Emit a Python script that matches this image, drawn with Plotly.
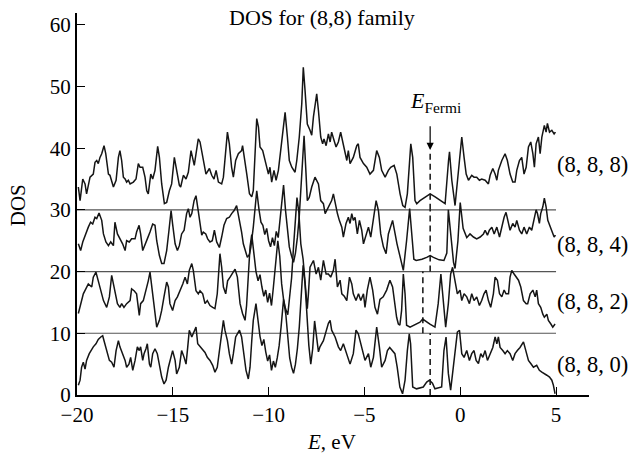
import plotly.graph_objects as go

# ---------------- data ----------------
e_888 = [-19.93,-19.84,-19.70,-19.58,-19.50,-19.32,-19.15,-19.06,-18.97,-18.89,-18.80,-18.71,-18.59,-18.50,-18.36,-18.28,-18.10,-17.96,-17.84,-17.76,
         -17.67,-17.58,-17.49,-17.41,-17.32,-17.23,-17.06,-16.92,-16.80,-16.71,-16.57,-16.45,-16.36,-16.28,-16.15,-16.05,-15.93,-15.79,-15.70,-15.58,
         -15.44,-15.32,-15.18,-15.06,-14.92,-14.80,-14.66,-14.59,-14.45,-14.31,-14.19,-14.05,-13.96,-13.88,-13.75,-13.67,-13.58,-13.44,-13.27,-13.09,
         -12.97,-12.85,-12.74,-12.62,-12.45,-12.36,-12.22,-12.15,-12.05,-11.93,-11.84,-11.72,-11.58,-11.41,-11.36,-11.23,-11.14,-11.00,-10.88,-10.80,
         -10.71,-10.62,-10.53,-10.45,-10.31,-10.19,-10.01,-9.93,-9.84,-9.72,-9.61,-9.49,-9.32,-9.14,-9.02,-8.92,-8.79,-8.62,-8.53,-8.40,
         -8.27,-8.19,-8.10,-7.98,-7.84,-7.75,-7.66,-7.49,-7.40,-7.28,-7.18,-7.11,-7.00,-6.88,-6.79,-6.71,-6.58,-6.48,-6.36,-6.24,
         -6.13,-6.01,-5.92,-5.84,-5.75,-5.58,-5.40,-5.32,-5.23,-5.05,-4.88,-4.71,-4.53,-4.36,-4.22,-4.10,-3.92,-3.75,-3.63,-3.45,
         -3.31,-3.14,-3.00,-2.88,-2.76,-2.58,-2.48,-2.36,-2.27,-2.10,-1.84,-1.57,-1.31,-1.05,-0.79,-0.61,-0.56,-0.44,-0.27,-0.04,
         0.08,0.20,0.31,0.43,0.60,0.72,0.86,1.00,1.12,1.30,1.47,1.56,1.70,1.82,1.91,1.99,2.17,2.34,2.46,2.60,
         2.74,2.86,2.95,3.09,3.21,3.33,3.44,3.56,3.68,3.79,3.87,3.96,4.08,4.17,4.26,4.39,4.48,4.55,4.66,4.78,4.90,4.97]
y_888 = [33.7,31.5,35.0,34.2,32.6,35.3,35.8,37.7,38.0,37.5,38.5,39.1,40.4,39.1,35.8,35.6,33.7,34.8,38.5,39.6,
         38.0,35.3,35.0,34.5,34.8,34.2,34.5,35.0,37.5,36.9,36.9,35.3,33.1,32.6,35.8,35.0,36.4,40.3,38.5,34.2,
         31.0,31.2,33.1,34.2,38.5,36.4,34.0,33.7,35.6,35.0,36.1,39.6,38.0,37.2,39.9,41.5,41.0,38.5,35.8,36.7,
         35.6,35.0,36.4,34.5,34.2,35.3,41.2,42.6,40.7,36.9,35.3,38.0,39.1,39.6,40.4,38.0,35.8,32.6,32.1,33.1,
         40.2,44.8,43.4,40.2,39.6,38.0,35.8,36.9,34.5,36.4,34.8,36.4,40.7,45.8,41.8,38.0,36.9,36.1,38.0,41.8,
         47.2,53.1,49.4,43.9,42.9,42.1,45.1,48.8,46.1,41.8,40.7,41.5,40.4,42.3,41.0,42.6,41.2,40.2,41.0,42.6,
         41.0,39.1,38.0,39.6,37.5,38.5,40.4,40.7,38.5,37.5,36.9,35.8,36.4,39.6,38.5,36.4,35.3,36.4,36.9,37.2,
         35.8,32.6,30.7,30.4,32.6,40.7,38.5,31.5,31.0,31.5,32.1,32.6,32.1,31.5,31.0,38.0,39.4,34.8,30.7,38.0,
         41.8,38.5,35.8,34.8,35.6,35.3,35.3,34.8,35.0,34.8,34.2,35.6,36.7,35.8,34.8,36.4,38.0,39.1,38.0,35.8,
         34.5,34.5,36.4,38.0,38.5,35.8,36.9,40.2,41.0,39.1,36.9,40.7,41.8,39.1,41.8,43.7,42.6,44.0,42.6,42.9,42.3,42.6]

e_884 = [-19.93,-19.81,-19.70,-19.58,-19.41,-19.29,-19.18,-19.06,-18.97,-18.85,-18.71,-18.62,-18.49,-18.36,-18.24,-18.10,-18.02,-17.89,-17.76,-17.62,
         -17.49,-17.41,-17.27,-17.15,-16.97,-16.89,-16.76,-16.68,-16.57,-16.45,-16.33,-16.19,-16.05,-15.93,-15.84,-15.70,-15.58,-15.46,-15.32,-15.20,
         -15.09,-15.01,-14.88,-14.76,-14.66,-14.54,-14.41,-14.28,-14.19,-14.10,-14.01,-13.89,-13.79,-13.70,-13.58,-13.49,-13.41,-13.28,-13.18,-13.06,
         -12.94,-12.83,-12.71,-12.57,-12.45,-12.33,-12.19,-12.05,-11.93,-11.80,-11.67,-11.54,-11.41,-11.32,-11.20,-11.11,-11.00,-10.93,-10.80,-10.70,
         -10.62,-10.50,-10.40,-10.30,-10.20,-10.10,-10.00,-9.90,-9.80,-9.70,-9.60,-9.50,-9.40,-9.30,-9.22,-9.12,-9.02,-8.92,-8.80,-8.70,
         -8.60,-8.50,-8.40,-8.30,-8.22,-8.15,-8.05,-7.98,-7.88,-7.75,-7.58,-7.40,-7.28,-7.14,-7.05,-6.88,-6.71,-6.62,-6.53,-6.41,
         -6.31,-6.18,-6.10,-5.96,-5.84,-5.75,-5.66,-5.58,-5.49,-5.37,-5.26,-5.14,-5.05,-4.91,-4.79,-4.67,-4.53,-4.39,-4.27,-4.15,
         -4.01,-3.87,-3.75,-3.53,-3.30,-3.10,-2.97,-2.80,-2.64,-2.50,-2.42,-2.30,-2.00,-1.75,-1.57,-1.40,-1.10,-0.85,-0.70,-0.62,
         -0.50,-0.35,-0.27,-0.12,0.00,0.15,0.34,0.51,0.69,0.86,1.04,1.21,1.30,1.42,1.52,1.65,1.77,1.91,2.05,2.17,
         2.29,2.39,2.52,2.60,2.74,2.86,2.95,3.09,3.21,3.33,3.47,3.61,3.73,3.85,3.96,4.03,4.13,4.20,4.31,4.39,
         4.48,4.57,4.69,4.81,4.90,4.97]
y_884 = [24.5,23.4,24.8,25.9,27.2,28.0,27.7,28.8,28.6,29.5,28.3,26.1,24.8,24.2,24.8,24.2,28.0,26.1,25.3,24.5,
         23.4,25.0,24.8,25.3,25.3,26.4,27.5,26.1,23.4,24.5,25.3,26.4,27.7,27.5,25.0,22.6,21.3,21.3,23.4,26.7,
         29.9,27.7,24.5,23.4,24.2,26.1,26.7,29.4,30.2,28.8,29.4,31.5,32.3,30.4,27.7,25.9,26.4,26.1,25.3,24.8,
         25.0,26.7,24.8,23.9,25.6,27.5,28.6,28.8,29.4,29.9,30.7,28.8,26.4,24.5,23.4,22.3,22.8,23.9,27.2,31.0,
         33.1,30.0,28.0,27.5,26.0,27.0,25.0,24.0,25.5,24.2,26.5,25.5,28.5,31.0,34.0,30.0,26.5,24.0,22.5,21.5,
         23.0,25.5,29.0,34.0,39.0,42.0,36.0,31.5,32.0,33.7,35.3,34.2,31.5,31.0,29.4,30.5,31.5,32.6,31.0,29.4,
         28.3,27.2,25.6,27.8,28.8,27.8,29.4,28.3,28.8,26.1,28.3,26.7,24.5,26.1,27.2,25.6,28.8,31.5,29.9,26.1,
         24.0,22.9,26.1,28.3,24.5,22.0,20.2,25.0,30.2,25.0,22.0,21.8,22.0,22.3,22.6,22.3,21.9,21.8,23.0,30.0,
         26.0,21.5,20.5,25.0,31.2,27.0,25.5,26.1,25.6,25.3,25.6,26.1,26.7,25.9,26.7,27.2,26.1,27.2,25.6,27.2,
         28.8,29.6,27.8,26.7,27.8,27.2,28.3,26.7,26.1,27.2,26.1,27.2,26.7,28.3,30.0,29.4,27.8,29.4,30.5,31.9,
         30.5,28.3,27.2,26.4,25.6,25.9]

e_882 = [-19.93,-19.81,-19.67,-19.41,-19.23,-19.15,-19.01,-18.89,-18.76,-18.62,-18.45,-18.31,-18.19,-18.10,-18.02,-17.89,-17.76,-17.67,-17.55,-17.41,
         -17.23,-17.15,-17.02,-16.89,-16.75,-16.68,-16.54,-16.40,-16.28,-16.19,-16.10,-15.98,-15.84,-15.70,-15.58,-15.46,-15.32,-15.23,-15.15,-15.01,
         -14.88,-14.76,-14.62,-14.48,-14.36,-14.24,-14.14,-14.01,-13.93,-13.79,-13.67,-13.58,-13.44,-13.32,-13.20,-13.06,-12.92,-12.80,-12.68,-12.54,
         -12.45,-12.36,-12.24,-12.14,-12.01,-11.87,-11.75,-11.63,-11.49,-11.36,-11.23,-11.15,-11.06,-10.97,-10.88,-10.78,-10.66,-10.55,-10.45,-10.35,
         -10.25,-10.15,-10.05,-9.95,-9.85,-9.75,-9.65,-9.52,-9.42,-9.32,-9.22,-9.12,-9.00,-8.90,-8.80,-8.70,-8.60,-8.52,-8.42,-8.32,
         -8.20,-8.08,-7.98,-7.92,-7.84,-7.66,-7.52,-7.40,-7.28,-7.14,-7.00,-6.88,-6.76,-6.62,-6.53,-6.41,-6.27,-6.18,-6.05,-5.92,
         -5.78,-5.66,-5.58,-5.44,-5.31,-5.19,-5.05,-4.97,-4.85,-4.71,-4.57,-4.45,-4.32,-4.19,-4.02,-3.84,-3.67,-3.53,-3.41,-3.32,
         -3.23,-3.15,-3.06,-2.97,-2.88,-2.80,-2.62,-2.28,-2.10,-1.96,-1.79,-1.58,-1.32,-1.15,-1.01,-0.88,-0.76,-0.62,-0.50,-0.40,
         -0.27,-0.15,-0.01,0.08,0.20,0.34,0.48,0.60,0.72,0.86,1.00,1.12,1.24,1.35,1.47,1.59,1.73,1.82,1.94,2.05,
         2.17,2.29,2.39,2.52,2.60,2.69,2.81,2.92,3.04,3.16,3.30,3.44,3.52,3.65,3.79,3.91,3.99,4.08,4.20,4.31,
         4.39,4.52,4.60,4.73,4.83,4.95]
y_882 = [13.2,14.8,16.4,18.0,17.5,19.1,19.9,18.5,16.9,15.3,14.2,15.9,19.4,18.0,16.9,14.8,14.2,14.8,14.2,14.8,
         15.3,17.2,16.9,16.4,12.9,14.8,15.3,16.9,18.5,19.9,17.5,14.2,11.0,12.1,13.7,15.9,18.3,17.5,14.8,13.7,
         15.3,15.9,16.9,18.0,19.1,18.0,20.2,21.3,20.2,16.9,16.4,16.9,16.4,14.8,15.3,14.5,14.2,14.0,16.4,22.9,
         20.7,17.5,16.4,18.5,19.1,19.9,20.4,19.1,14.8,13.2,12.1,14.5,19.5,24.0,26.0,23.5,20.0,18.5,19.5,17.5,
         16.0,17.0,15.0,16.5,14.5,17.5,21.0,25.0,22.5,18.0,15.5,14.0,13.0,15.5,19.0,24.0,29.0,32.0,29.5,24.5,
         22.0,18.0,14.0,16.5,20.7,21.8,19.6,20.7,18.6,21.8,19.6,19.6,19.1,20.2,22.0,17.5,18.6,16.4,16.0,15.3,
         19.1,18.0,16.4,15.3,16.4,15.3,16.4,14.2,17.0,19.1,17.0,14.2,13.1,15.5,15.9,17.0,18.6,17.5,14.2,12.6,
         11.5,11.3,13.7,19.6,16.4,11.3,11.0,11.5,11.8,12.3,11.9,11.5,11.0,14.8,19.6,15.3,11.0,14.8,19.6,20.7,
         18.6,16.4,17.0,15.3,16.4,15.9,14.8,16.4,15.3,15.9,14.5,15.3,16.4,17.0,15.3,14.2,16.4,19.1,18.6,16.4,
         15.9,17.0,16.4,16.4,19.1,20.2,19.6,19.1,18.6,17.5,15.3,14.8,14.8,16.4,17.0,15.9,17.0,14.8,14.2,13.1,
         12.6,13.1,12.1,11.5,11.0,11.5]

e_880 = [-19.93,-19.84,-19.76,-19.67,-19.58,-19.50,-19.36,-19.23,-19.15,-19.01,-18.89,-18.76,-18.66,-18.59,-18.45,-18.31,-18.19,-18.07,-17.96,-17.84,
         -17.76,-17.63,-17.49,-17.41,-17.29,-17.20,-17.09,-16.97,-16.85,-16.75,-16.68,-16.57,-16.50,-16.40,-16.33,-16.22,-16.15,-16.05,-15.93,-15.81,
         -15.70,-15.58,-15.46,-15.35,-15.23,-15.11,-15.01,-14.88,-14.80,-14.66,-14.54,-14.41,-14.31,-14.22,-14.14,-14.01,-13.93,-13.79,-13.70,-13.58,
         -13.44,-13.32,-13.20,-13.06,-12.92,-12.80,-12.68,-12.54,-12.45,-12.36,-12.28,-12.15,-12.05,-11.93,-11.84,-11.72,-11.63,-11.52,-11.41,-11.28,
         -11.18,-11.06,-10.97,-10.88,-10.80,-10.66,-10.55,-10.45,-10.35,-10.25,-10.15,-10.05,-9.95,-9.85,-9.75,-9.65,-9.55,-9.45,-9.35,-9.22,
         -9.10,-9.00,-8.90,-8.80,-8.70,-8.60,-8.50,-8.40,-8.30,-8.20,-8.10,-8.00,-7.90,-7.80,-7.70,-7.60,-7.50,-7.40,-7.32,-7.14,
         -6.88,-6.79,-6.71,-6.53,-6.36,-6.24,-6.10,-5.92,-5.75,-5.58,-5.44,-5.32,-5.14,-4.97,-4.79,-4.67,-4.53,-4.36,-4.22,-4.10,
         -3.92,-3.80,-3.68,-3.53,-3.41,-3.29,-3.15,-3.01,-2.88,-2.76,-2.66,-2.59,-2.48,-2.28,-1.93,-1.75,-1.61,-1.45,-1.32,-0.97,
         -0.85,-0.74,-0.62,-0.50,-0.33,-0.15,-0.04,0.08,0.20,0.34,0.48,0.60,0.72,0.83,0.95,1.07,1.18,1.30,1.42,1.56,
         1.70,1.82,1.91,1.99,2.08,2.22,2.34,2.46,2.60,2.74,2.86,2.98,3.12,3.30,3.44,3.56,3.68,3.82,3.99,4.13,
         4.26,4.39,4.52,4.66,4.78,4.86,4.95]
y_880 = [1.6,2.4,4.5,5.3,4.2,5.6,6.7,7.5,7.8,8.3,9.0,9.4,9.6,8.8,7.2,5.6,5.3,4.5,7.2,8.8,
         7.8,6.7,5.6,4.5,5.0,6.1,4.0,5.6,7.8,7.2,7.8,5.6,6.7,7.5,8.3,5.0,4.5,6.7,7.5,6.7,
         5.0,2.9,1.8,2.4,4.5,6.1,7.2,5.6,3.4,4.5,7.2,6.1,5.0,7.8,10.5,9.4,9.9,11.0,8.3,7.8,
         7.2,6.9,6.1,5.6,4.8,3.7,4.5,7.8,9.9,12.1,10.5,8.8,6.7,5.0,6.7,9.4,9.9,10.5,9.4,6.7,
         4.0,2.6,4.5,8.8,12.1,14.8,12.0,9.5,8.0,9.0,7.0,5.5,6.5,4.0,5.5,4.5,6.0,8.0,11.0,15.5,
         13.0,9.0,6.0,4.5,3.5,5.0,7.5,11.0,16.0,21.0,18.0,12.0,8.0,5.0,7.5,12.0,9.5,7.0,7.8,8.8,
         11.6,12.1,10.5,9.4,7.8,7.2,8.3,6.7,5.0,6.7,10.5,9.9,7.8,5.6,6.7,4.5,6.1,11.0,7.8,4.5,
         5.6,7.2,7.7,7.2,6.7,4.5,1.3,0.2,2.4,7.2,9.9,8.3,1.3,1.0,1.3,2.1,2.4,1.9,1.0,1.3,
         7.2,9.4,3.5,0.8,5.6,10.2,10.5,6.7,6.1,7.2,5.6,6.7,7.2,5.6,5.1,6.7,6.1,7.2,5.6,6.7,
         7.7,9.4,8.3,9.4,7.7,7.2,6.7,7.2,6.7,5.6,6.7,7.2,7.7,8.6,6.7,5.6,5.1,4.5,4.8,4.0,
         3.7,3.5,3.2,2.9,2.4,1.6,0.2]

series = [("(8, 8, 8)", e_888, y_888), ("(8, 8, 4)", e_884, y_884),
          ("(8, 8, 2)", e_882, y_882), ("(8, 8, 0)", e_880, y_880)]
label_y = [37.4, 24.4, 15.1, 5.0]

baselines = [10, 20, 30]
fermi_e = [-1.57, -1.57, -1.95, -1.57]
fermi_lo = [30, 20, 10, 0]
fermi_hi = [39.7, 30, 20, 10]

x_ticks = [-20, -15, -10, -5, 0, 5]
y_ticks = [0, 10, 20, 30, 40, 50, 60]

# ---------------- figure ----------------
FONT = "Liberation Serif, Times New Roman, serif"
fig = go.Figure()

for b in baselines:
    fig.add_trace(go.Scatter(x=[-20, 5], y=[b, b], mode="lines",
                             line=dict(color="#555555", width=1.1), hoverinfo="skip"))

for e, lo, hi in zip(fermi_e, fermi_lo, fermi_hi):
    fig.add_trace(go.Scatter(x=[e, e], y=[lo, hi], mode="lines",
                             line=dict(color="black", width=1.4, dash="6px,4px"), hoverinfo="skip"))

for name, e, y in series:
    fig.add_trace(go.Scatter(x=e, y=y, mode="lines", name=name,
                             line=dict(color="#151515", width=1.5)))

for (name, e, y), ly in zip(series, label_y):
    fig.add_annotation(x=4.92, y=ly, text=name, showarrow=False, xanchor="left",
                       yanchor="middle", font=dict(family=FONT, size=22.5, color="black"))

# E_Fermi label with arrow
fig.add_annotation(x=-1.57, y=39.7, ax=-1.57, ay=43.8, xref="x", yref="y", axref="x", ayref="y",
                   showarrow=True, arrowhead=2, arrowsize=1.2, arrowwidth=1.2, arrowcolor="black", text="")
fig.add_annotation(x=-1.3, y=47.5, text="<i>E</i><sub>Fermi</sub>", showarrow=False,
                   xanchor="center", yanchor="middle", font=dict(family=FONT, size=22, color="black"))

# title and axis titles
fig.add_annotation(x=0.478, y=0.987, xref="paper", yref="paper", text="DOS for (8,8) family",
                   showarrow=False, xanchor="center", yanchor="middle",
                   font=dict(family=FONT, size=22, color="black"))
fig.add_annotation(x=0.497, y=-0.123, xref="paper", yref="paper", text="<i>E</i>, eV",
                   showarrow=False, xanchor="center", yanchor="middle",
                   font=dict(family=FONT, size=21, color="black"))
fig.add_annotation(x=-0.115, y=0.497, xref="paper", yref="paper", text="DOS", textangle=-90,
                   showarrow=False, xanchor="center", yanchor="middle",
                   font=dict(family=FONT, size=21, color="black"))

fig.update_layout(
    width=636, height=460,
    margin=dict(l=77, r=47, t=13, b=65),
    paper_bgcolor="white", plot_bgcolor="white",
    showlegend=False,
    font=dict(family=FONT, size=20, color="black"),
    xaxis=dict(range=[-20, 6.72], tickvals=x_ticks, ticks="inside", ticklen=8, tickwidth=1.3,
               tickcolor="black", showline=True, linecolor="black", linewidth=2, showgrid=False,
               zeroline=False, automargin=False, tickfont=dict(family=FONT, size=21)),
    yaxis=dict(range=[0, 61.9], tickvals=y_ticks, ticks="inside", ticklen=8, tickwidth=1.3,
               tickcolor="black", showline=True, linecolor="black", linewidth=2, showgrid=False,
               zeroline=False, automargin=False, tickfont=dict(family=FONT, size=21)),
)

fig.write_html("out.html", config={"displayModeBar": False},
               post_script="document.body.style.margin='0px';document.body.style.overflow='hidden';")
